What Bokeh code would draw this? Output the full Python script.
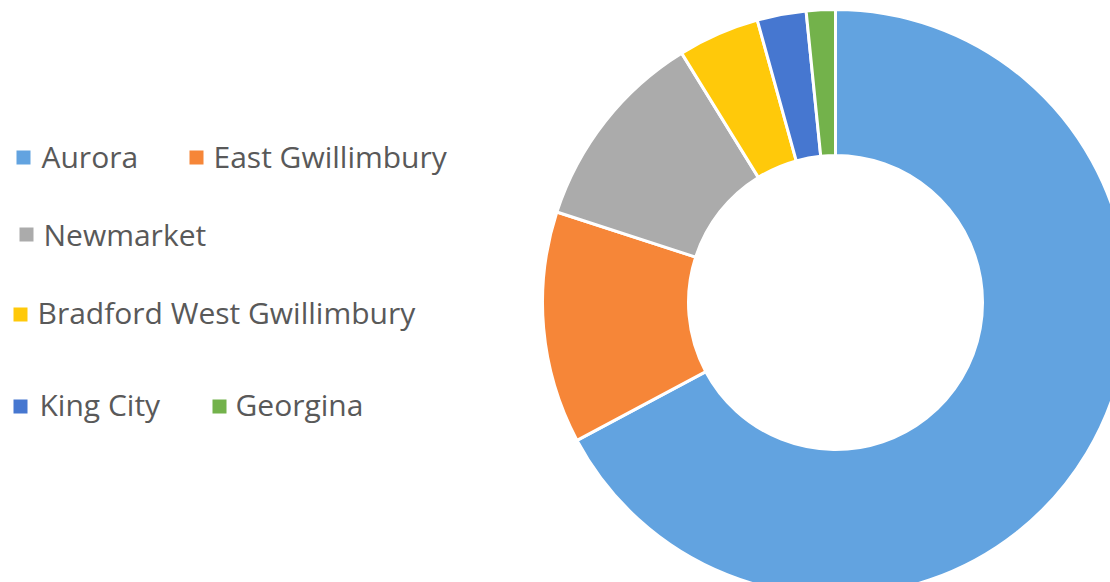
import numpy as np
from bokeh.plotting import figure
from bokeh.models import ColumnDataSource, Range1d
from bokeh.core.properties import value
from bokeh.embed import file_html
from bokeh.resources import INLINE

# Data (shares, %)
categories = ["Aurora", "East Gwillimbury", "Newmarket", "Bradford West Gwillimbury", "King City", "Georgina"]
shares = [67.2, 12.8, 11.2, 4.5, 2.7, 1.6]
colors = ["#62A3E0", "#F68638", "#ABABAB", "#FFC90A", "#4677D0", "#73B24B"]

W, H = 1110, 582
p = figure(width=W, height=H, output_backend="svg", toolbar_location=None,
           x_range=Range1d(0, W), y_range=Range1d(0, H), min_border=0)
p.axis.visible = False
p.grid.visible = False
p.outline_line_color = None
p.background_fill_color = "white"
p.border_fill_color = "white"

vals = np.array(shares, dtype=float)
frac = vals / vals.sum()
cum = np.concatenate([[0], np.cumsum(frac)])
start = np.pi / 2 - cum[:-1] * 2 * np.pi
end = np.pi / 2 - cum[1:] * 2 * np.pi

cx, cy = 835, H - 302
src = ColumnDataSource(dict(start=start, end=end, color=colors, cat=categories))
p.annular_wedge(x=cx, y=cy, inner_radius=147, outer_radius=293,
                start_angle="start", end_angle="end", direction="clock",
                fill_color="color", line_color="white", line_width=3, source=src)

# Legend (manual layout)
mx = [23, 196, 26, 20, 20, 219]
my = [157, 157, 234, 314, 406, 406]
tx = [41, 213, 43, 37, 39, 235]
ty = [156, 156, 234, 312, 404, 404]
leg = ColumnDataSource(dict(mx=mx, my=[H - v for v in my], tx=tx, ty=[H - v for v in ty],
                            color=colors, cat=categories))
p.scatter(x="mx", y="my", size=14, marker="square", fill_color="color", line_color=None, source=leg)
p.text(x="tx", y="ty", text="cat", source=leg, text_font=value("Open Sans"),
       text_font_size="30px", text_color="#595959", text_baseline="alphabetic", text_align="left")

open("out.html", "w").write(file_html(p, INLINE))
